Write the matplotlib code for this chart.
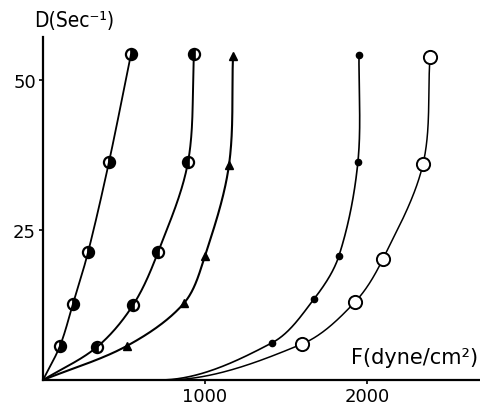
import numpy as np
import matplotlib
matplotlib.use("Agg")
import matplotlib.pyplot as plt

# ---- data ----
# F (dyne/cm^2) and D (sec^-1) for the five series
f1 = [105, 185, 278, 407, 543]
d1 = [5.7, 12.7, 21.3, 36.3, 54.3]
f2 = [333, 556, 710, 895, 932]
d2 = [5.5, 12.5, 21.3, 36.3, 54.3]
f3 = [519, 870, 1000, 1148, 1173]
d3 = [5.7, 12.8, 20.7, 35.8, 54.0]
f4 = [1414, 1673, 1827, 1944, 1951]
d4 = [6.2, 13.5, 20.7, 36.3, 54.2]
f5 = [1599, 1926, 2099, 2346, 2389]
d5 = [6.0, 13.0, 20.2, 36.0, 53.8]
# F where each curve leaves the F axis (D = 0)
f_start = [0, 0, 0, 720, 760]

xticks = [1000, 2000]
xtick_labels = ["1000", "2000"]
yticks = [25, 50]
ytick_labels = ["25", "50"]

SX, SY = 0.162, 6.0  # approx px per unit, only for spline shaping


def smooth(xs, ys, flat_start=False, n=60):
    P = np.column_stack([np.asarray(xs, float) * SX, np.asarray(ys, float) * SY])
    k = len(P)
    d = np.linalg.norm(np.diff(P, axis=0), axis=1)
    t = np.concatenate([[0], np.cumsum(d)])
    M = np.zeros_like(P)
    for i in range(1, k - 1):
        M[i] = (P[i + 1] - P[i - 1]) / (t[i + 1] - t[i - 1])
    if flat_start:
        M[0] = np.array([1.0, 0.0])
    else:
        M[0] = (P[1] - P[0]) / (t[1] - t[0])
    M[-1] = (P[-1] - P[-2]) / (t[-1] - t[-2])
    out = []
    for i in range(k - 1):
        h = t[i + 1] - t[i]
        s = np.linspace(0, 1, n)[:, None]
        h00 = 2 * s**3 - 3 * s**2 + 1
        h10 = s**3 - 2 * s**2 + s
        h01 = -2 * s**3 + 3 * s**2
        h11 = s**3 - s**2
        seg = h00 * P[i] + h10 * h * M[i] + h01 * P[i + 1] + h11 * h * M[i + 1]
        out.append(seg if i == 0 else seg[1:])
    Q = np.vstack(out)
    return Q[:, 0] / SX, Q[:, 1] / SY


fig = plt.figure(figsize=(4.8, 4.1), dpi=100)
ax = fig.add_axes([43 / 480, 29 / 410, 437 / 480, 343 / 410])
ax.set_xlim(0, 2698)
ax.set_ylim(0, 57.2)

series = [
    (f1, d1, dict(marker="o", ms=8, fillstyle="right", mfc="black", mec="black", mew=1.6)),
    (f2, d2, dict(marker="o", ms=8, fillstyle="left", mfc="black", mec="black", mew=1.6)),
    (f3, d3, dict(marker="^", ms=6, mfc="black", mec="black", mew=1)),
    (f4, d4, dict(marker="o", ms=4.5, mfc="black", mec="black", mew=1)),
    (f5, d5, dict(marker="o", ms=9.5, mfc="white", mec="black", mew=1.4)),
]
lws = [1.3, 1.4, 1.5, 1.2, 1.1]

for (fx, dy, mk), f0, lw in zip(series, f_start, lws):
    cx, cy = smooth([f0] + list(fx), [0] + list(dy), flat_start=(f0 > 0))
    ax.plot(cx, cy, color="black", lw=lw, zorder=2, solid_capstyle="round")
    ax.plot(fx, dy, ls="none", zorder=3, **mk)

for s in ["top", "right"]:
    ax.spines[s].set_visible(False)
ax.spines["left"].set_linewidth(1.6)
ax.spines["bottom"].set_linewidth(1.6)

ax.set_xticks(xticks)
ax.set_xticklabels(xtick_labels)
ax.set_yticks(yticks)
ax.set_yticklabels(ytick_labels)
ax.tick_params(axis="both", direction="out", length=3, width=1.2,
               labelsize=13, pad=2, colors="black")

fig.text(74 / 480, 1 - 21 / 410, "D(Sec⁻¹)", fontsize=15, ha="center", va="center",
         fontstretch="condensed")
fig.text(478 / 480, 1 - 358 / 410, "F(dyne/cm²)", fontsize=15, ha="right", va="center")

fig.savefig("out.png", dpi=100)
